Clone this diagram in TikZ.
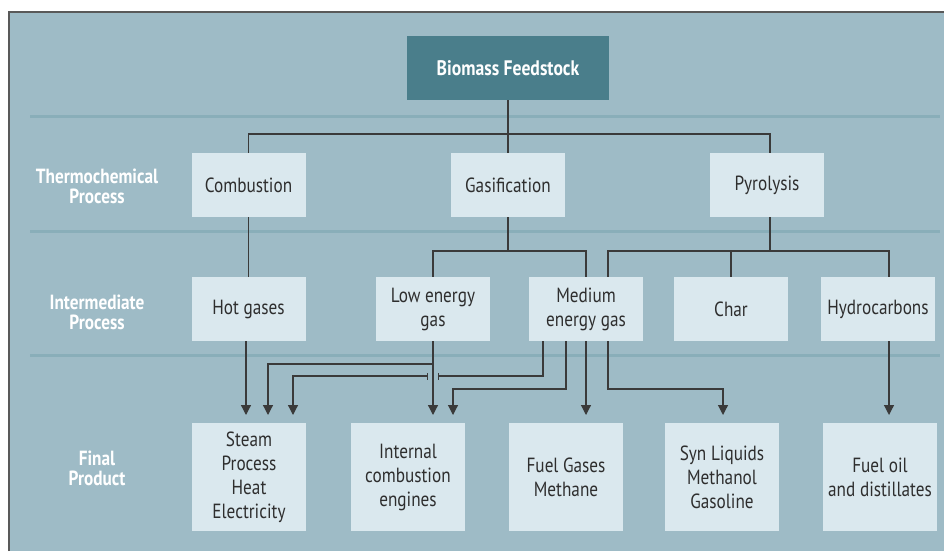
\documentclass[tikz,border=0pt]{standalone}
\usepackage{fontspec}
\setmainfont{PT Sans}[FakeStretch=0.84]
\usetikzlibrary{arrows.meta}
\definecolor{panelbg}{HTML}{9EBBC6}
\definecolor{boxbg}{HTML}{DAE8EE}
\definecolor{topbg}{HTML}{4A7E8B}
\definecolor{stripe}{HTML}{89AEB9}
\definecolor{linec}{HTML}{3A3A3A}
\definecolor{txt}{HTML}{2E2E2E}
\begin{document}
\begin{tikzpicture}[x=1pt,y=-1pt,
  pbox/.style={fill=boxbg,draw=none,minimum width=114pt,minimum height=64pt,inner sep=1pt,align=center,text=txt,font=\fontsize{20.5}{24}\selectfont},
  tallbox/.style={pbox,minimum height=108pt},
  topbox/.style={fill=topbg,draw=none,minimum width=202pt,minimum height=64pt,text=white,font=\fontsize{21}{24}\selectfont\bfseries},
  rowlabel/.style={text=white,align=center,font=\fontsize{20.5}{20}\selectfont\bfseries},
  conn/.style={draw=linec,line width=1.2pt},
  arr/.style={conn,-{Triangle[width=10pt,length=10pt]}},
  teebar/.style={draw=linec,line width=1pt}
]
\useasboundingbox (0,0) rectangle (944,551);
\fill[white] (0,0) rectangle (944,551);
\fill[panelbg] (9,12) rectangle (944,551);
\draw[draw=black!65,line width=2pt] (9,551) -- (9,12) -- (944,12);
\foreach \yy in {116,231,355} \draw[stripe,line width=3pt] (30,\yy) -- (940,\yy);

% row labels
\node[rowlabel] (lt) at (97,186) {Thermochemical\\Process};
\node[rowlabel] (li) at (97,312) {Intermediate\\Process};
\node[rowlabel] (lf) at (97,468) {Final\\Product};

% nodes
\node[topbox] (bio) at (508,68) {Biomass Feedstock};
\node[pbox] (comb) at (248.5,185) {Combustion};
\node[pbox] (gas) at (508,185) {Gasification};
\node[pbox] (pyr) at (767,185) {Pyrolysis};

\node[pbox] (hot) at (248.5,309) {Hot gases};
\node[pbox] (low) at (433,309) {Low energy\\gas};
\node[pbox] (med) at (586,309) {Medium\\energy gas};
\node[pbox] (char) at (731,309) {Char};
\node[pbox] (hyd) at (878,309) {Hydrocarbons};

\node[tallbox] (steam) at (249,477) {Steam\\Process\\Heat\\Electricity};
\node[tallbox] (ice) at (408,477) {Internal\\combustion\\engines};
\node[tallbox] (fuel) at (566,477) {Fuel Gases\\Methane};
\node[tallbox] (syn) at (722,477) {Syn Liquids\\Methanol\\Gasoline};
\node[tallbox] (oil) at (880,477) {Fuel oil\\and distillates};

% level 1
\coordinate (j1) at (508,134);
\draw[conn] (bio.south) -- (j1);
\draw[conn] (comb.north) |- (j1) -| ([xshift=3pt]pyr.north);
\draw[conn] (j1) -- (gas.north);

% level 2
\coordinate (j2) at (508,251);
\coordinate (j3) at (770,251);
\draw[conn] (comb.south) -- (hot.north);
\draw[conn] (gas.south) -- (j2);
\draw[conn] (low.north) |- (j2) -| (med.north);
\draw[conn] (pyr.south -| j3) -- (j3);
\draw[conn] ([xshift=22pt]med.north) |- (j3) -| ([xshift=11pt]hyd.north);
\draw[conn] (j3 -| char.north) -- (char.north);

% level 3 arrows
\coordinate (a1) at (246,415);
\coordinate (a2) at (268,415);
\coordinate (a3) at (293,415);
\coordinate (a4) at (433,415);
\coordinate (a5) at (453,415);
\coordinate (a6) at (586,415);
\coordinate (a7) at (723,415);
\coordinate (a8) at (889,415);
\coordinate (t1) at (438,376);
\coordinate (t2) at (427,376);

\draw[arr] (hot.south -| a1) -- (a1);
\draw[arr] (low.south) -- (a4);
\draw[arr] (low.south |- 0,364) -| (a2);
\draw[conn] ([xshift=-43pt]med.south) |- (t1);
\draw[arr] (t2) -| (a3);
\draw[teebar] ([yshift=-3.5pt]t1) -- ([yshift=3.5pt]t1);
\draw[teebar] ([yshift=-3.5pt]t2) -- ([yshift=3.5pt]t2);
\draw[arr] ([xshift=-20pt]med.south) |- (453,389) -- (a5);
\draw[arr] (med.south) -- (a6);
\draw[arr] ([xshift=22pt]med.south) |- (723,389) -- (a7);
\draw[arr] (hyd.south -| a8) -- (a8);
\end{tikzpicture}
\end{document}
